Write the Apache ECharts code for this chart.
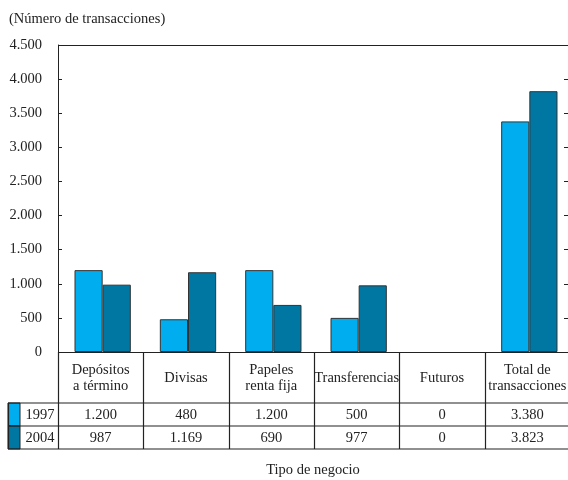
<!DOCTYPE html>
<html><head><meta charset="utf-8">
<script src="https://cdn.jsdelivr.net/npm/echarts@6/dist/echarts.min.js"></script>
<style>html,body{margin:0;padding:0;background:#fff}#c{width:568px;height:480px}</style>
</head><body><div id="c"></div>
<script>
var categories = ['Depósitos\na término', 'Divisas', 'Papeles\nrenta fija', 'Transferencias', 'Futuros', 'Total de\ntransacciones'];
var seriesNames = ['1997', '2004'];
var values1997 = [1200, 480, 1200, 500, 0, 3380];
var values2004 = [987, 1169, 690, 977, 0, 3823];
var yTicks = [0, 500, 1000, 1500, 2000, 2500, 3000, 3500, 4000, 4500];
var xAxisTitle = 'Tipo de negocio';
var colors = ['#00AEEF', '#0077A3'];
var FONT = '"Liberation Serif", "Times New Roman", serif';
var FS = 14.5;

function fmt(v){ return String(v).replace(/\B(?=(\d{3})+(?!\d))/g, '.'); }
function barData(vals){ return vals.map(function(v){ return v === 0 ? {value:v, itemStyle:{borderWidth:0}} : v; }); }

var chart = echarts.init(document.getElementById('c'), null, {renderer:'canvas'});
var AX = 58, GL = 60, GR = 572, GT = 45, GB = 352;
chart.setOption({
  animation:false,
  backgroundColor:'#fff',
  textStyle:{fontFamily:FONT},
  title:{text:'(Número de transacciones)', left:4, top:7, textStyle:{fontFamily:FONT, fontSize:FS, fontWeight:'normal', color:'#222'}},
  grid:{left:GL, right:568-GR, top:GT, bottom:480-GB, containLabel:false, outerBoundsMode:'none'},
  xAxis:[{type:'category', data:categories, axisLine:{show:false}, axisTick:{show:false}, axisLabel:{show:false}}],
  yAxis:[{type:'value', min:yTicks[0], max:yTicks[yTicks.length-1], interval:500, splitLine:{show:false}, offset:GL-AX,
          axisLine:{show:true, lineStyle:{color:'#222'}}, axisTick:{show:true, inside:true, length:4, lineStyle:{color:'#222'}},
          axisLabel:{formatter:fmt, fontFamily:FONT, fontSize:FS, color:'#222', margin:16}},
         {type:'value', position:'right', min:yTicks[0], max:yTicks[yTicks.length-1], interval:500, splitLine:{show:false}, offset:-(GR-568),
          axisLine:{show:false}, axisTick:{show:true, inside:true, length:4, lineStyle:{color:'#222'}}, axisLabel:{show:false}}],
  series:[
    {name:seriesNames[0], type:'bar', data:barData(values1997), barGap:'0%', barCategoryGap:'34%', itemStyle:{color:colors[0], borderColor:'#333', borderWidth:1}},
    {name:seriesNames[1], type:'bar', data:barData(values2004), barGap:'0%', barCategoryGap:'34%', itemStyle:{color:colors[1], borderColor:'#333', borderWidth:1}}
  ]
});

// Data table below the chart
var els = [];
var rowY = [GB, 403, 426, 449];
var lineStyle = {stroke:'#222', lineWidth:1.2};
function line(x1,y1,x2,y2){ els.push({type:'line', shape:{x1:x1,y1:y1,x2:x2,y2:y2}, style:lineStyle, silent:true, z:100}); }
function text(t,x,y){ els.push({type:'text', x:x, y:y, style:{text:t, fontFamily:FONT, fontSize:FS, fill:'#222', align:'center', verticalAlign:'middle', lineHeight:16}, silent:true, z:100}); }
var colW = (GR - 2 - AX) / categories.length;
var bounds = [];
for (var i = 0; i <= categories.length; i++) bounds.push(AX + i * colW);
// plot frame top and axis line
line(AX, GT + 0.5, 568, GT + 0.5);
line(AX, GB + 0.5, 568, GB + 0.5);
// vertical lines
for (var i = 0; i < bounds.length; i++) line(Math.round(bounds[i])+0.5, GB, Math.round(bounds[i])+0.5, rowY[3]);
// horizontal lines
line(8, rowY[1], 568, rowY[1]);
line(8, rowY[2], 568, rowY[2]);
line(8, rowY[3], 568, rowY[3]);
line(8.5, rowY[1], 8.5, rowY[3]);
var rows = [values1997, values2004];
for (var r = 0; r < 2; r++) {
  els.push({type:'rect', shape:{x:8, y:rowY[r+1], width:12, height:rowY[r+2]-rowY[r+1]}, style:{fill:colors[r], stroke:'#222', lineWidth:1}, silent:true});
  text(seriesNames[r], 40, (rowY[r+1]+rowY[r+2])/2+1);
}
for (var c = 0; c < categories.length; c++) {
  var cx = (bounds[c] + bounds[c+1]) / 2;
  text(categories[c], cx, (rowY[0]+rowY[1])/2+1);
  for (var r = 0; r < 2; r++) text(fmt(rows[r][c]), cx, (rowY[r+1]+rowY[r+2])/2+1);
}
text(xAxisTitle, 313, 470);
chart.setOption({graphic:{elements:els}});
</script></body></html>
